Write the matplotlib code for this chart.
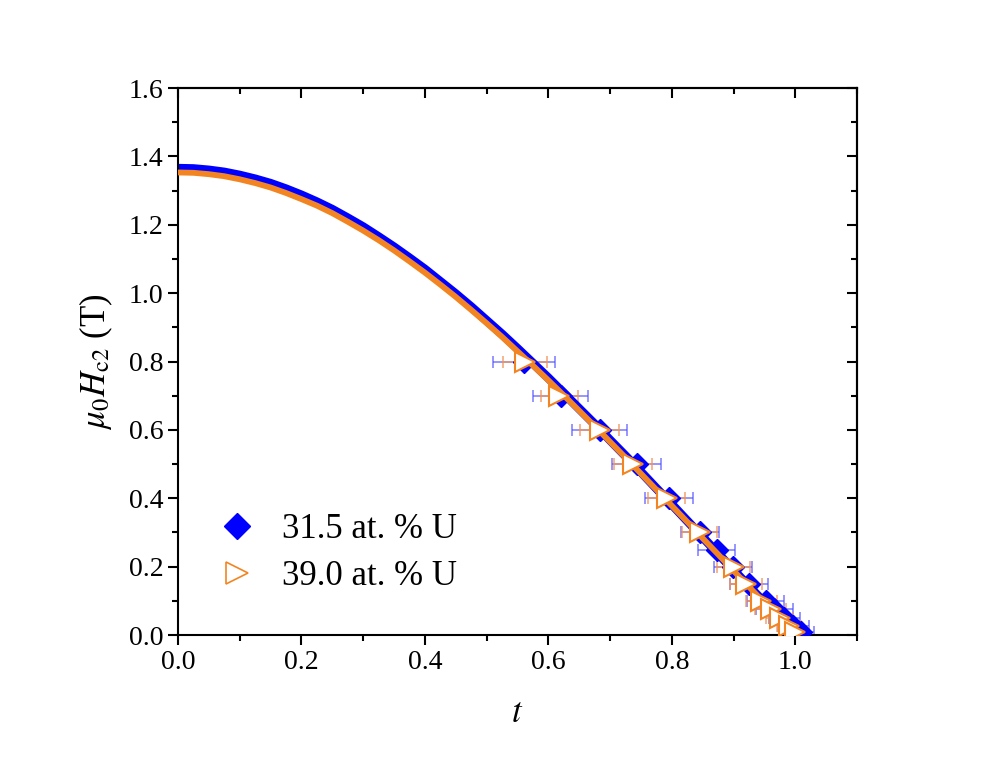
import matplotlib
matplotlib.use("Agg")
import matplotlib.pyplot as plt
from matplotlib.ticker import MultipleLocator, FormatStrFormatter
from matplotlib.lines import Line2D

plt.rcParams['font.family'] = ['Liberation Serif', 'DejaVu Serif']
plt.rcParams['mathtext.fontset'] = 'stix'

# ---- data ----
t_fit = [0.0, 0.025, 0.05, 0.075, 0.10, 0.125, 0.15, 0.175, 0.20, 0.225, 0.25, 0.275,
         0.30, 0.325, 0.35, 0.375, 0.40, 0.425, 0.45, 0.475, 0.50, 0.525, 0.55, 0.575,
         0.60, 0.625, 0.65, 0.675, 0.70, 0.725, 0.75, 0.775, 0.80, 0.825, 0.85, 0.875,
         0.90, 0.925, 0.95, 0.975, 1.00]
H_fit_315 = [1.365, 1.364, 1.360, 1.354, 1.345, 1.334, 1.321, 1.305, 1.287, 1.267, 1.245, 1.220,
             1.194, 1.165, 1.135, 1.103, 1.070, 1.034, 0.998, 0.960, 0.920, 0.880, 0.838, 0.795,
             0.752, 0.707, 0.662, 0.617, 0.570, 0.524, 0.477, 0.429, 0.382, 0.334, 0.286, 0.238,
             0.190, 0.142, 0.095, 0.047, 0.0]
H_fit_390 = [1.353, 1.352, 1.348, 1.342, 1.333, 1.322, 1.309, 1.293, 1.275, 1.256, 1.234, 1.209,
             1.183, 1.155, 1.125, 1.093, 1.060, 1.025, 0.989, 0.951, 0.912, 0.872, 0.830, 0.788,
             0.745, 0.701, 0.656, 0.611, 0.565, 0.519, 0.472, 0.425, 0.378, 0.331, 0.283, 0.236,
             0.188, 0.141, 0.094, 0.047, 0.0]

t_315 = [0.560, 0.620, 0.683, 0.743, 0.796, 0.846, 0.873, 0.899, 0.925, 0.952, 0.966, 0.982, 0.997, 1.010]
H_315 = [0.80, 0.70, 0.60, 0.50, 0.40, 0.30, 0.25, 0.20, 0.15, 0.10, 0.075, 0.05, 0.025, 0.01]
terr_315 = [0.050, 0.045, 0.045, 0.040, 0.039, 0.031, 0.030, 0.031, 0.030, 0.030, 0.030, 0.025, 0.025, 0.02]

t_390 = [0.562, 0.618, 0.683, 0.737, 0.792, 0.845, 0.900, 0.920, 0.945, 0.960, 0.975, 0.990, 1.000]
H_390 = [0.80, 0.70, 0.60, 0.50, 0.40, 0.30, 0.20, 0.15, 0.10, 0.075, 0.05, 0.025, 0.01]
terr_390 = [0.036, 0.030, 0.032, 0.031, 0.030, 0.028, 0.027, 0.026, 0.025, 0.025, 0.022, 0.02, 0.02]

labels = ['31.5 at. % U', '39.0 at. % U']

blue = '#0000FF'
orange = '#F28522'

fig = plt.figure(figsize=(9.97, 7.64), dpi=100)
ax = fig.add_axes([0.1785, 0.1688, 0.6811, 0.716])

ax.errorbar(t_315, H_315, xerr=terr_315, fmt='none', ecolor='#5050FF', alpha=0.7,
            elinewidth=1.2, capsize=4, capthick=1.2, zorder=1)
ax.errorbar(t_390, H_390, xerr=terr_390, fmt='none', ecolor='#F0955A', alpha=0.8,
            elinewidth=1.2, capsize=4, capthick=1.2, zorder=1)
ax.plot(t_fit, H_fit_315, '-', color=blue, lw=6.5, zorder=2, solid_capstyle='butt')
ax.plot(t_315, H_315, 'D', color=blue, markersize=11, zorder=3)
ax.plot(t_fit, H_fit_390, '-', color=orange, lw=4.2, zorder=4, solid_capstyle='butt')
ax.plot(t_390, H_390, '>', mfc='white', mec=orange, mew=1.5, markersize=15, zorder=5)

ax.set_xlim(0, 1.1)
ax.set_ylim(0, 1.6)
for axis in (ax.xaxis, ax.yaxis):
    axis.set_major_locator(MultipleLocator(0.2))
    axis.set_minor_locator(MultipleLocator(0.1))
    axis.set_major_formatter(FormatStrFormatter('%.1f'))
ax.tick_params(which='both', direction='out', width=1.5, labelsize=20)
ax.tick_params(which='major', length=7)
ax.tick_params(which='minor', length=4)
for s in ax.spines.values():
    s.set_linewidth(1.5)

secx = ax.secondary_xaxis('top')
secx.xaxis.set_major_locator(MultipleLocator(0.2))
secx.xaxis.set_minor_locator(MultipleLocator(0.1))
secx.tick_params(which='both', direction='in', width=1.5, labeltop=False)
secx.tick_params(which='major', length=7)
secx.tick_params(which='minor', length=4)
secx.spines['top'].set_linewidth(1.5)
secy = ax.secondary_yaxis('right')
secy.yaxis.set_major_locator(MultipleLocator(0.2))
secy.yaxis.set_minor_locator(MultipleLocator(0.1))
secy.tick_params(which='both', direction='in', width=1.5, labelright=False)
secy.tick_params(which='major', length=7)
secy.tick_params(which='minor', length=4)
secy.spines['right'].set_linewidth(1.5)

ax.set_xlabel(r'$t$', fontsize=25, labelpad=16)
ax.set_ylabel(r'$\mu_0H_{\rm c2}$ (T)', fontsize=25, labelpad=10)

handles = [Line2D([], [], ls='none', marker='D', color=blue, markersize=13),
           Line2D([], [], ls='none', marker='>', mfc='white', mec=orange, mew=1.2, markersize=16)]
ax.legend(handles, labels, loc='lower left', bbox_to_anchor=(-0.01, 0.02), frameon=False,
          fontsize=25, handletextpad=0.3, labelspacing=0.4)

fig.savefig('out.png', dpi=100)
